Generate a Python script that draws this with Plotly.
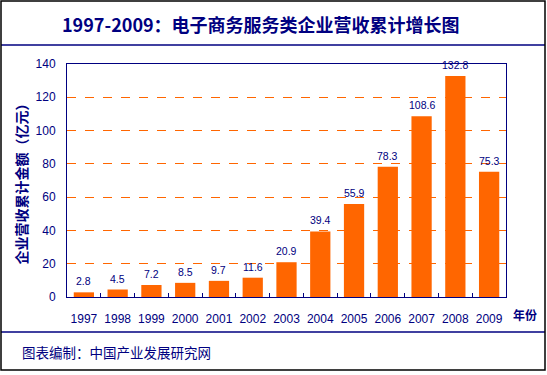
import plotly.graph_objects as go

years = ["1997", "1998", "1999", "2000", "2001", "2002", "2003", "2004", "2005", "2006", "2007", "2008", "2009"]
revenue = [2.8, 4.5, 7.2, 8.5, 9.7, 11.6, 20.9, 39.4, 55.9, 78.3, 108.6, 132.8, 75.3]
labels = ["2.8", "4.5", "7.2", "8.5", "9.7", "11.6", "20.9", "39.4", "55.9", "78.3", "108.6", "132.8", "75.3"]

W, H = 547, 375
L, R, T, B = 67, 506, 64, 297
NAVY = "#000080"

def px(x):
    return (x - L) / (R - L)

def py(y):
    return (B - y) / (B - T)

fig = go.Figure()
fig.add_trace(go.Bar(
    x=years, y=revenue,
    marker=dict(color="#FF6600", line=dict(width=0)),
    width=0.6,
))

fig.update_layout(
    width=W, height=H,
    margin=dict(l=L, r=W - R, t=T, b=H - B, autoexpand=False),
    paper_bgcolor="white", plot_bgcolor="white",
    showlegend=False,
    xaxis=dict(
        type="category", categoryorder="array", categoryarray=years,
        showgrid=False, showline=True, linecolor=NAVY, linewidth=1,
        mirror=True, ticks="inside", ticklen=4, tickcolor=NAVY, tickson="boundaries",
        tickangle=0, automargin=False, ticklabelstandoff=11,
        tickfont=dict(family="Arial", size=12, color=NAVY),
    ),
    yaxis=dict(
        range=[0, 140], dtick=20, showgrid=True, gridcolor="#FF6600", griddash="dash",
        gridwidth=1, showline=True, linecolor=NAVY, linewidth=1, mirror=True,
        ticks="", zeroline=False, automargin=False, ticklabelstandoff=8,
        tickfont=dict(family="Arial", size=12, color=NAVY),
        title=dict(text="<b>企业营收累计金额（亿元）</b>", standoff=4,
                   font=dict(family="Noto Sans CJK SC", size=14, color=NAVY)),
    ),
    font=dict(family="Arial", color=NAVY),
)

annotations = [
    dict(text=t, x=i, y=v, xref="x", yref="y", showarrow=False, yanchor="bottom",
         yshift=3, font=dict(family="Arial", size=10.5, color=NAVY))
    for i, (v, t) in enumerate(zip(revenue, labels))
]
annotations += [
    dict(text="<b>1997-2009：电子商务服务类企业营收累计增长图</b>", x=px(261), y=py(24),
         xref="paper", yref="paper", showarrow=False, xanchor="center", yanchor="middle",
         font=dict(family="Noto Sans CJK SC", size=18, color=NAVY)),
    dict(text="<b>年份</b>", x=px(525), y=py(314), xref="paper", yref="paper",
         showarrow=False, xanchor="center", yanchor="middle",
         font=dict(family="Noto Sans CJK SC", size=12, color=NAVY)),
    dict(text="图表编制：中国产业发展研究网", x=px(20), y=py(352), xref="paper", yref="paper",
         showarrow=False, xanchor="left", yanchor="middle",
         font=dict(family="Noto Sans CJK SC", size=13.5, color=NAVY)),
]
fig.update_layout(annotations=annotations)

shapes = [
    dict(type="line", xref="paper", yref="paper", x0=px(1), x1=px(545), y0=py(45), y1=py(45),
         line=dict(color=NAVY, width=1.5)),
    dict(type="line", xref="paper", yref="paper", x0=px(1), x1=px(545), y0=py(332), y1=py(332),
         line=dict(color=NAVY, width=1.5)),
    dict(type="rect", xref="paper", yref="paper", x0=px(1), x1=px(545), y0=py(1), y1=py(370),
         line=dict(color="black", width=1.5)),
]
fig.update_layout(shapes=shapes)

fig.write_html("out.html", config={"displayModeBar": False},
               post_script="document.body.style.margin='0';")
